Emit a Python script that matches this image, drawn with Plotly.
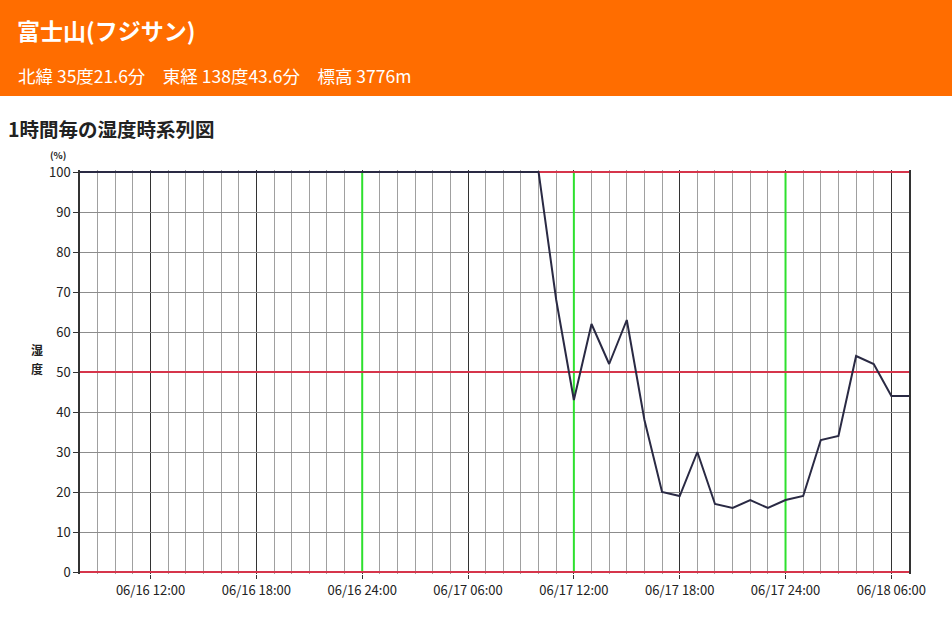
import pandas as pd
import plotly.graph_objects as go

# Hourly humidity at 富士山, 06/16 08:00 - 06/18 07:00
times = pd.date_range("2024-06-16 08:00", "2024-06-18 07:00", freq="h")
humidity = [
    100, 100, 100, 100, 100, 100, 100, 100, 100, 100, 100, 100,
    100, 100, 100, 100, 100, 100, 100, 100, 100, 100, 100, 100,
    100, 100, 100, 68, 43, 62, 52, 63, 38, 20, 19, 30,
    17, 16, 18, 16, 18, 19, 33, 34, 54, 52, 44, 44,
]

x_range = ["2024-06-16 08:00", "2024-06-18 07:00"]
tick_vals = ["2024-06-16 12:00", "2024-06-16 18:00", "2024-06-17 00:00",
             "2024-06-17 06:00", "2024-06-17 12:00", "2024-06-17 18:00",
             "2024-06-18 00:00", "2024-06-18 06:00"]
tick_text = ["06/16 12:00", "06/16 18:00", "06/16 24:00", "06/17 06:00",
             "06/17 12:00", "06/17 18:00", "06/17 24:00", "06/18 06:00"]
green_marks = ["2024-06-17 00:00", "2024-06-17 12:00", "2024-06-18 00:00"]
red_levels = [0, 50, 100]
y_ticks = [0, 10, 20, 30, 40, 50, 60, 70, 80, 90, 100]

FONT = "Noto Sans CJK JP"
ORANGE = "#ff6d00"

fig = go.Figure()

# reference lines sit above the grid but under the humidity line
for t in green_marks:
    fig.add_trace(go.Scatter(x=[t, t], y=[0, 100], mode="lines",
                             line=dict(color="#2ee02e", width=2),
                             hoverinfo="skip", showlegend=False))
for lv in red_levels:
    fig.add_trace(go.Scatter(x=x_range, y=[lv, lv], mode="lines",
                             line=dict(color="#d6354b", width=2),
                             hoverinfo="skip", showlegend=False))

fig.add_trace(go.Scatter(
    x=times, y=humidity, mode="lines",
    line=dict(color="#2a2a44", width=2),
    hoverinfo="x+y", showlegend=False,
))

# orange header band
fig.update_layout(shapes=[dict(type="rect", xref="paper", yref="paper",
                               x0=-0.1, x1=1.06, y0=1.1832, y1=1.45,
                               fillcolor=ORANGE, line=dict(width=0), layer="above")])


def note(text, x, y, size, color="#222", anchor="left"):
    return dict(text=text, xref="paper", yref="paper", x=x, y=y,
                xanchor=anchor, yanchor="middle", showarrow=False, borderpad=0,
                font=dict(family=FONT, size=size, color=color))


fig.update_layout(annotations=[
    note("<b>富士山(フジサン)</b>", -0.077, 1.3465, 23, "white"),
    note("北緯 35度21.6分　東経 138度43.6分　標高 3776m", -0.0765, 1.235, 17.5, "white"),
    note("<b>1時間毎の湿度時系列図</b>", -0.0885, 1.1015, 19.5),
    note("<b>(%)</b>", -0.027, 1.036, 9.5, anchor="center"),
    note("<b>湿</b>", -0.0515, 0.5557, 12, anchor="center"),
    note("<b>度</b>", -0.0515, 0.5087, 12, anchor="center"),
])

fig.update_xaxes(
    type="date", range=x_range,
    tickmode="array", tickvals=tick_vals, ticktext=tick_text,
    showgrid=True, gridcolor="#333333", gridwidth=1,
    ticks="outside", ticklen=4, tickcolor="#333", tickwidth=1,
    tickfont=dict(family=FONT, size=13, color="#222"),
    minor=dict(tickmode="linear", tick0="2024-06-16 08:00", dtick=3600000,
               showgrid=True, gridcolor="#a0a0a0", gridwidth=1, ticks=""),
    showline=False, zeroline=False, fixedrange=True,
)
# half a unit of headroom keeps the 0 and 100 lines fully inside the clip area
fig.update_yaxes(
    range=[-0.5, 100.5], tickmode="array", tickvals=y_ticks,
    showgrid=True, gridcolor="#8c8c8c", gridwidth=1,
    ticks="outside", ticklen=5, tickcolor="#333", tickwidth=1,
    tickfont=dict(family=FONT, size=13, color="#222"),
    showline=True, linecolor="#333", linewidth=1.5, mirror=True,
    zeroline=False, fixedrange=True,
)

fig.update_layout(
    width=952, height=623,
    margin=dict(l=80, r=43, t=170, b=49),
    paper_bgcolor="white", plot_bgcolor="white",
    font=dict(family=FONT),
)

fig.write_html("out.html", config={"displayModeBar": False})
